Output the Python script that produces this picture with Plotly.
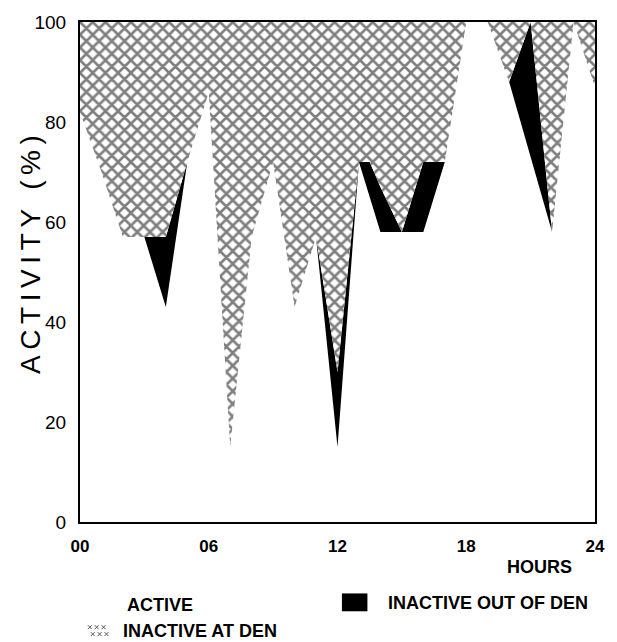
import plotly.graph_objects as go

# ---- data (percent of time, per hour of day) ----
hours = [0, 1, 2, 3, 4, 5, 6, 7, 8, 9, 10, 11, 12, 13, 13.5, 14, 15, 16, 17, 18, 19, 20, 21, 22, 23, 24]
active = [82, 70, 57, 57, 43, 72, 86, 15, 57, 72, 43, 57, 15, 72, 65, 58, 58, 58, 72, 100, 100, 88, 73, 58, 100, 87]
inactive_out_of_den = [0, 0, 0, 0, 14, 0, 0, 0, 0, 0, 0, 0, 15, 0, 7, 9, 0, 14, 0, 0, 0, 0, 27, 0, 0, 0]
inactive_at_den = [18, 30, 43, 43, 43, 28, 14, 85, 43, 28, 57, 43, 70, 28, 28, 33, 42, 28, 28, 0, 0, 12, 0, 42, 0, 13]

x_tickvals = [0, 6, 12, 18, 24]
x_ticktext = ["00", "06", "12", "18", "24"]
y_tickvals = [0, 20, 40, 60, 80, 100]

FONT = "Liberation Sans, Arial, sans-serif"
TS = "\u2009"  # thin space, mimics the wide letter spacing of the original title

fig = go.Figure()
fig.add_trace(go.Scatter(
    x=hours, y=active, stackgroup="act", mode="lines",
    line=dict(width=0, color="white"), fillcolor="white", name="ACTIVE"))
fig.add_trace(go.Scatter(
    x=hours, y=inactive_out_of_den, stackgroup="act", mode="lines",
    line=dict(width=0, color="black"), fillcolor="black", name="INACTIVE OUT OF DEN"))
fig.add_trace(go.Scatter(
    x=hours, y=inactive_at_den, stackgroup="act", mode="lines",
    line=dict(width=0, color="black"), fillcolor="white",
    fillpattern=dict(shape="x", size=9, solidity=0.5, fgcolor="black", bgcolor="white"),
    name="INACTIVE AT DEN"))

fig.update_layout(
    width=617, height=642,
    margin=dict(l=80, r=12, t=18, b=120),
    paper_bgcolor="white", plot_bgcolor="white",
    showlegend=False,
    font=dict(family=FONT, color="black"),
)
fig.update_xaxes(
    range=[0, 24], tickvals=x_tickvals, ticktext=x_ticktext,
    showline=True, mirror=True, linecolor="black", linewidth=2,
    showgrid=False, zeroline=False, ticks="", ticklabelstandoff=8,
    tickfont=dict(size=17, weight="bold", family=FONT, color="black"))
fig.update_yaxes(
    range=[0, 100], tickvals=y_tickvals,
    showline=True, mirror=True, linecolor="black", linewidth=2,
    showgrid=False, zeroline=False, ticks="", ticklabelstandoff=8,
    tickfont=dict(size=19, family=FONT, color="black"))

def px_x(p):
    # page pixel -> paper x
    return (p - 80) / 525.0

def px_y(p):
    # page pixel -> paper y
    return (522 - p) / 504.0

title_text = TS.join("ACTIVITY (%)")
ann = [
    dict(text=title_text, x=px_x(29), y=px_y(252), textangle=-90,
         font=dict(size=28, family=FONT, color="black"), xanchor="center", yanchor="middle"),
    dict(text="HOURS", x=px_x(548), y=px_y(567),
         font=dict(size=18, weight="bold", family=FONT, color="black"), xanchor="center", yanchor="middle"),
    dict(text="ACTIVE", x=px_x(126), y=px_y(606),
         font=dict(size=18, weight="bold", family=FONT, color="black"), xanchor="left", yanchor="middle"),
    dict(text="INACTIVE OUT OF DEN", x=px_x(392), y=px_y(604),
         font=dict(size=18, weight="bold", family=FONT, color="black"), xanchor="left", yanchor="middle"),
    dict(text="INACTIVE AT DEN", x=px_x(122), y=px_y(632),
         font=dict(size=18, weight="bold", family=FONT, color="black"), xanchor="left", yanchor="middle"),
]
for a in ann:
    a.update(xref="paper", yref="paper", showarrow=False)
fig.update_layout(annotations=ann)

# legend swatch: inactive out of den (solid black box)
fig.add_shape(type="rect", xref="paper", yref="paper",
              x0=px_x(347), x1=px_x(373), y0=px_y(594), y1=px_y(612),
              fillcolor="black", line=dict(width=0))

# legend swatch: inactive at den (small hatched patch drawn as tiny crosses)
swatch = []
for row, (cy, xs) in enumerate([(628, [90, 97, 104]), (635, [93, 100, 107])]):
    for cx in xs:
        swatch.append("M{:.5f},{:.5f}L{:.5f},{:.5f}".format(px_x(cx - 2), px_y(cy - 2), px_x(cx + 2), px_y(cy + 2)))
        swatch.append("M{:.5f},{:.5f}L{:.5f},{:.5f}".format(px_x(cx - 2), px_y(cy + 2), px_x(cx + 2), px_y(cy - 2)))
fig.add_shape(type="path", xref="paper", yref="paper", path="".join(swatch),
              line=dict(color="#555555", width=1))

# remove the browser's default 8px body margin so the figure fills the window exactly
fig.write_html("out.html",
               config={"displayModeBar": False},
               post_script="document.body.style.margin='0px';"
                           "document.documentElement.style.overflow='hidden';")
